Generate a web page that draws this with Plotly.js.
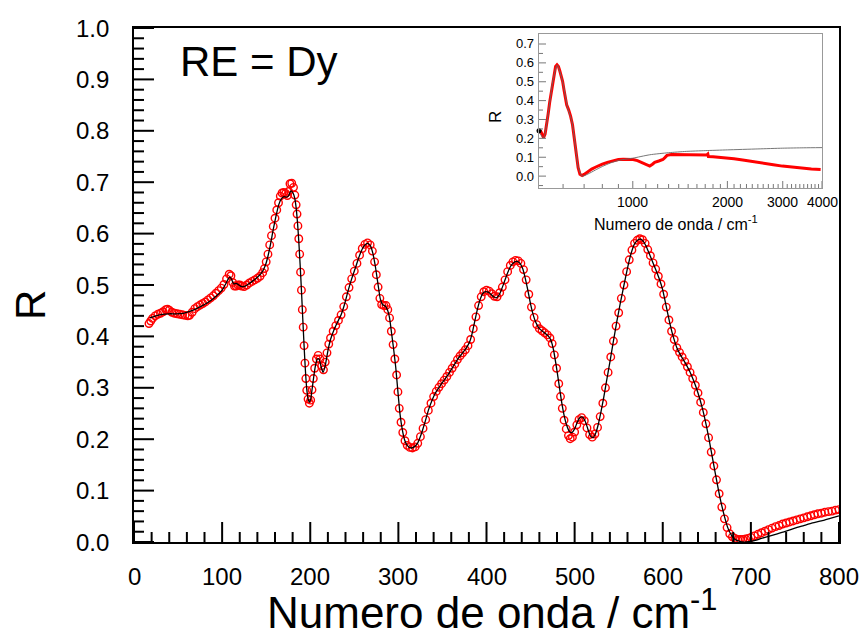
<!DOCTYPE html>
<html>
<head>
<meta charset="utf-8">
<script src="https://cdn.plot.ly/plotly-3.0.1.min.js"></script>
<style>html,body{margin:0;padding:0;background:#fff;}#chart{width:864px;height:641px;}</style>
</head>
<body>
<div id="chart"></div>
<script>
// ---- Main panel: experimental reflectance (red circles) ----
const expX = [17,19,21,24,27,30,33,36,38,40,43,46,49,52,55,58,61,63,66,69,72,75,78,81,84,87,90,93,96,99,102,105,108,110,112,114,116,118,120,122,125,128,131,134,137,140,143,146,148,150,152,154,156,158,160,162,164,166,168,170,172,174,175.5,177,179,181,182.5,184,185,186,187,188,189,190,191,192,193,194,195,196,197.5,199,200.5,202,203.5,205,207,209,211,213,215,217,219,221,223,226,229,232,235,238,241,244,247,250,253,256,259,262,265,268,270.5,273,275,277,279,281,283.5,286,288,290,292,294,296,298,299.5,301,303,305,307.5,310,313,316,319,322,325,328,331,334,337,340,343,346,349,352,355,358,361,364,367,370,373,376,379,382,385,388,391,394,397,400,403,406,409,412,415,418,421,424,427,430,433,436,439,442,445,448,451,454,457,460,463,466,469,472,474.5,477,479.5,482,484,486,488,490.5,493,495,497.5,500,502.5,505,508,511,514,517,520,523,526,529,532,535,538,541,544,547,550,553,556,559,562,565,568,571,574,577,580,583,586,589,592,595,598,601,604,607,610,613,616,619,622,625,628,631,634,637,640,643,646,649,652,655,658,661,664,667,670,673,676,679,682,685,688,691,694,697,700,704,708,712,716,720,724,728,732,736,740,744,748,752,756,760,764,768,772,776,780,784,788,792,796,800];
const expR = [0.425,0.430,0.435,0.440,0.443,0.445,0.448,0.452,0.453,0.451,0.447,0.445,0.444,0.443,0.442,0.441,0.440,0.441,0.447,0.454,0.458,0.461,0.464,0.467,0.471,0.475,0.479,0.484,0.489,0.494,0.501,0.512,0.521,0.518,0.505,0.498,0.498,0.500,0.500,0.498,0.497,0.500,0.504,0.507,0.510,0.513,0.517,0.524,0.532,0.545,0.560,0.578,0.596,0.614,0.630,0.646,0.660,0.673,0.679,0.680,0.678,0.674,0.682,0.697,0.698,0.690,0.675,0.656,0.638,0.615,0.590,0.560,0.525,0.490,0.452,0.418,0.382,0.348,0.318,0.295,0.278,0.270,0.276,0.296,0.318,0.338,0.356,0.363,0.356,0.343,0.335,0.350,0.368,0.385,0.397,0.410,0.421,0.431,0.442,0.458,0.477,0.495,0.512,0.527,0.542,0.558,0.571,0.579,0.582,0.578,0.566,0.545,0.520,0.496,0.474,0.462,0.460,0.460,0.452,0.436,0.410,0.384,0.356,0.325,0.292,0.260,0.233,0.213,0.197,0.188,0.184,0.183,0.185,0.192,0.205,0.221,0.238,0.256,0.270,0.283,0.293,0.301,0.308,0.315,0.322,0.330,0.338,0.346,0.355,0.362,0.368,0.374,0.382,0.394,0.415,0.438,0.460,0.477,0.487,0.490,0.488,0.483,0.478,0.477,0.485,0.496,0.510,0.526,0.538,0.545,0.548,0.547,0.542,0.530,0.510,0.482,0.457,0.437,0.423,0.415,0.411,0.407,0.403,0.397,0.386,0.364,0.338,0.308,0.283,0.260,0.237,0.220,0.207,0.201,0.204,0.214,0.228,0.238,0.242,0.236,0.222,0.209,0.204,0.210,0.223,0.244,0.270,0.300,0.330,0.360,0.391,0.420,0.446,0.474,0.500,0.526,0.549,0.568,0.581,0.587,0.590,0.588,0.581,0.569,0.557,0.543,0.531,0.517,0.502,0.482,0.457,0.432,0.410,0.394,0.378,0.369,0.360,0.351,0.341,0.330,0.318,0.305,0.290,0.272,0.252,0.230,0.203,0.175,0.148,0.121,0.094,0.068,0.045,0.028,0.016,0.010,0.007,0.005,0.005,0.005,0.006,0.007,0.009,0.012,0.015,0.018,0.021,0.024,0.027,0.030,0.032,0.035,0.037,0.039,0.041,0.043,0.045,0.047,0.049,0.051,0.053,0.055,0.056,0.058,0.059,0.060,0.062,0.063];

// ---- Main panel: fitted model (black line) ----
const fitX = [18,25,32,40,48,56,64,72,80,88,95,100,104,107,109,111,113,116,119,122,126,130,135,140,145,149,152,155,158,161,164,167,170,173,175.5,178,180.5,182.5,184,185.5,187,188.5,190,191.5,193,194.5,196,197.5,199,200.5,202,204,206,208,210,212,214.5,217,220,223,227,231,235,239,243,247,251,255,259,262,265,268,271,274,277,279.5,282,285,288,290,292,294.5,297,299.5,302,304.5,307,310,314,318,322,326,330,334,338,342,347,352,357,362,367,372,377,381,384,387,390,393,396,399,402,405,408,411,414,417,420,424,428,432,435,438,441,444,447,450,453,456,460,465,470,473,476,479,482,485,488,491,494,497,500,503,506,509,512,515,518,521,524,527,530,533,536,540,544,548,552,556,560,564,568,572,575,578,581,584,588,592,596,600,604,608,612,616,620,625,630,635,640,645,650,655,660,665,670,674,678,682,686,690,695,700,705,712,720,730,740,750,760,770,780,790,800];
const fitR = [0.436,0.440,0.443,0.444,0.444,0.445,0.449,0.455,0.462,0.471,0.481,0.490,0.502,0.512,0.516,0.510,0.502,0.503,0.500,0.497,0.498,0.502,0.508,0.515,0.524,0.538,0.556,0.580,0.608,0.633,0.655,0.667,0.672,0.671,0.674,0.683,0.679,0.668,0.650,0.622,0.585,0.540,0.490,0.435,0.382,0.334,0.298,0.279,0.272,0.278,0.296,0.322,0.344,0.356,0.356,0.343,0.330,0.343,0.372,0.394,0.413,0.428,0.442,0.463,0.489,0.512,0.532,0.553,0.570,0.578,0.581,0.577,0.562,0.535,0.500,0.473,0.462,0.459,0.450,0.436,0.410,0.377,0.340,0.292,0.247,0.218,0.199,0.188,0.183,0.185,0.193,0.210,0.232,0.256,0.275,0.290,0.303,0.315,0.327,0.341,0.355,0.366,0.377,0.390,0.408,0.432,0.455,0.473,0.484,0.487,0.486,0.482,0.477,0.475,0.480,0.491,0.505,0.524,0.538,0.545,0.546,0.542,0.532,0.513,0.489,0.463,0.442,0.427,0.415,0.408,0.401,0.393,0.374,0.344,0.310,0.275,0.247,0.227,0.215,0.213,0.220,0.233,0.242,0.243,0.235,0.220,0.206,0.203,0.212,0.230,0.254,0.281,0.311,0.350,0.391,0.430,0.466,0.500,0.533,0.561,0.580,0.588,0.589,0.585,0.576,0.564,0.547,0.530,0.512,0.490,0.458,0.426,0.399,0.378,0.364,0.350,0.334,0.314,0.290,0.260,0.222,0.177,0.130,0.086,0.050,0.027,0.013,0.005,0.002,0.000,0.000,0.001,0.003,0.007,0.011,0.016,0.021,0.027,0.032,0.037,0.041,0.046,0.051];

// ---- Inset: full range, log wavenumber ----
const insExpX = [503,508,514,520,526,532,538,544,550,556,562,568,574,580,586,592,598,604,610,616,625,634,643,652,661,670,679,690,700,720,740,760,780,800,830,866,900,932,970,1002,1035,1065,1100,1132,1155,1174,1210,1247,1265,1285,1326,1400,1480,1580,1671,1720,1733,1740,1800,1934,2100,2238,2400,2588,2800,2993,3200,3463,3700,3960];
const insExpR = [0.228,0.242,0.224,0.204,0.223,0.270,0.330,0.391,0.446,0.500,0.549,0.581,0.590,0.581,0.557,0.531,0.502,0.457,0.410,0.378,0.351,0.318,0.272,0.203,0.121,0.045,0.010,0.003,0.009,0.024,0.037,0.047,0.056,0.063,0.073,0.083,0.088,0.090,0.090,0.088,0.082,0.072,0.060,0.053,0.063,0.073,0.080,0.088,0.098,0.110,0.115,0.114,0.113,0.111,0.110,0.112,0.117,0.104,0.102,0.099,0.092,0.085,0.076,0.067,0.060,0.053,0.048,0.041,0.038,0.035];
const insFitX = [503,520,540,556,575,600,620,640,660,670,690,720,760,800,850,900,950,1000,1132,1300,1480,1700,2000,2500,3000,3500,4000];
const insFitR = [0.233,0.203,0.350,0.500,0.589,0.490,0.364,0.290,0.130,0.050,0.000,0.011,0.032,0.051,0.070,0.083,0.090,0.095,0.113,0.124,0.131,0.135,0.139,0.144,0.148,0.150,0.151];
const insDotX = [503];
const insDotR = [0.24];

// Tick labels / tick positions
const mainXTicks = [0,100,200,300,400,500,600,700,800];
const mainXMinor = [20,40,60,80,120,140,160,180,220,240,260,280,320,340,360,380,420,440,460,480,520,540,560,580,620,640,660,680,720,740,760,780];
const mainYTicks = [0.0,0.1,0.2,0.3,0.4,0.5,0.6,0.7,0.8,0.9,1.0];
const mainYMinor = [0.02,0.04,0.06,0.08,0.12,0.14,0.16,0.18,0.22,0.24,0.26,0.28,0.32,0.34,0.36,0.38,0.42,0.44,0.46,0.48,0.52,0.54,0.56,0.58,0.62,0.64,0.66,0.68,0.72,0.74,0.76,0.78,0.82,0.84,0.86,0.88,0.92,0.94,0.96,0.98];
const insXTicks = [1000,2000,3000,4000];
const insXMinor = [600,700,800,900,1100,1200,1300,1400,1500,1600,1700,1800,1900,2100,2200,2300,2400,2500,2600,2700,2800,2900,3100,3200,3300,3400,3500,3600,3700,3800,3900];
const insYTicks = [0.0,0.1,0.2,0.3,0.4,0.5,0.6,0.7];
const insYMinor = [-0.05,0.05,0.15,0.25,0.35,0.45,0.55,0.65];

const FONT = 'Arial, "Liberation Sans", sans-serif';

const traces = [
  {x: expX, y: expR, xaxis:'x', yaxis:'y', mode:'markers', type:'scatter',
   marker:{symbol:'circle-open', size:7.5, color:'#ff0000', line:{width:1.4, color:'#ff0000'}}},
  {x: fitX, y: fitR, xaxis:'x', yaxis:'y', mode:'lines', type:'scatter',
   line:{color:'#000000', width:1.3, shape:'spline', smoothing:0.5}},
  {x: insExpX, y: insExpR, xaxis:'x2', yaxis:'y2', mode:'lines', type:'scatter',
   line:{color:'#ff0000', width:3}},
  {x: insFitX, y: insFitR, xaxis:'x2', yaxis:'y2', mode:'lines', type:'scatter',
   line:{color:'#666666', width:0.9, shape:'spline', smoothing:0.6}},
  {x: insDotX, y: insDotR, xaxis:'x2', yaxis:'y2', mode:'markers', type:'scatter', cliponaxis:false,
   marker:{color:'#000000', size:5}}
];

const px2x = p => (p - 134) / 705;
const px2y = p => (542 - p) / 514;

// plot-area sizes in px (main 705x514, inset 283x154) used for tick lengths
const MAIN_W = 705, MAIN_H = 514, INS_W = 283, INS_H = 154;

// Tick marks as line shapes placed through the axes' scales
const shapes = [];
const xTick = (xa, ya, v, len, h, col, w) => shapes.push({type:'line', xref:xa, yref:ya + ' domain',
  x0:v, x1:v, y0:0, y1:len / h, line:{color:col, width:w}, layer:'above'});
const yTick = (xa, ya, v, len, wpx, col, w) => shapes.push({type:'line', xref:xa + ' domain', yref:ya,
  x0:0, x1:len / wpx, y0:v, y1:v, line:{color:col, width:w}, layer:'above'});
mainXTicks.forEach(v => xTick('x', 'y', v, 20, MAIN_H, '#000', 2));
mainXMinor.forEach(v => xTick('x', 'y', v, 10, MAIN_H, '#000', 2));
mainYTicks.forEach(v => yTick('x', 'y', v, 20, MAIN_W, '#000', 2));
mainYMinor.forEach(v => yTick('x', 'y', v, 10, MAIN_W, '#000', 2));
insXTicks.forEach(v => xTick('x2', 'y2', v, 7, INS_H, '#777', 1));
insXMinor.forEach(v => xTick('x2', 'y2', v, 4, INS_H, '#777', 1));
insYTicks.forEach(v => yTick('x2', 'y2', v, 7, INS_W, '#777', 1));
insYMinor.forEach(v => yTick('x2', 'y2', v, 4, INS_W, '#777', 1));

// Tick labels placed through the axes' own scales
const tickAnns = [];
mainXTicks.forEach(v => tickAnns.push({text:String(v), xref:'x', x:v, yref:'paper', y:px2y(576),
  xanchor:'center', yanchor:'middle', showarrow:false, font:{size:24, family:FONT, color:'#000'}}));
mainYTicks.forEach(v => tickAnns.push({text:v.toFixed(1), xref:'paper', x:px2x(111), yref:'y', y:v,
  xanchor:'right', yanchor:'middle', showarrow:false, font:{size:24, family:FONT, color:'#000'}}));
insXTicks.forEach(v => tickAnns.push({text:String(v), xref:'x2', x:Math.log10(v), yref:'paper', y:px2y(202),
  xanchor:'center', yanchor:'middle', showarrow:false, font:{size:14, family:FONT, color:'#000'}}));
insYTicks.forEach(v => tickAnns.push({text:v.toFixed(1), xref:'paper', x:px2x(536), yref:'y2', y:v,
  xanchor:'right', yanchor:'middle', showarrow:false, font:{size:13, family:FONT, color:'#000'}}));

const layout = {
  width: 864, height: 641,
  margin: {l:134, r:25, t:28, b:99, pad:0},
  paper_bgcolor:'#ffffff', plot_bgcolor:'#ffffff',
  showlegend:false,
  font:{family:FONT, color:'#000'},
  xaxis:{domain:[0,1], range:[0,800], showticklabels:false, ticks:'',
    showline:true, linecolor:'#000', linewidth:2, mirror:true, showgrid:false, zeroline:false},
  yaxis:{domain:[0,1], range:[0,1.0], showticklabels:false, ticks:'',
    showline:true, linecolor:'#000', linewidth:2, mirror:true, showgrid:false, zeroline:false},
  xaxis2:{domain:[px2x(539), px2x(822)], anchor:'y2', type:'log',
    range:[Math.log10(503), Math.log10(4000)], showticklabels:false, ticks:'',
    showline:true, linecolor:'#999', linewidth:1.2, mirror:true, showgrid:false, zeroline:false},
  yaxis2:{domain:[px2y(188), px2y(34)], anchor:'x2', range:[-0.063, 0.753], showticklabels:false, ticks:'',
    showline:true, linecolor:'#999', linewidth:1.2, mirror:true, showgrid:false, zeroline:false},
  shapes: shapes,
  annotations:[
    {text:'RE = Dy', xref:'paper', yref:'paper', x:px2x(178), y:px2y(61), xanchor:'left', yanchor:'middle',
     showarrow:false, font:{size:42, family:FONT, color:'#000'}},
    {text:'Numero de onda / cm<sup>-1</sup>', xref:'paper', yref:'paper', x:px2x(492), y:px2y(609),
     xanchor:'center', yanchor:'middle', showarrow:false, font:{size:44, family:FONT, color:'#000'}},
    {text:'R', xref:'paper', yref:'paper', x:px2x(30), y:px2y(305), xanchor:'center', yanchor:'middle',
     textangle:-90, showarrow:false, font:{size:42, family:FONT, color:'#000'}},
    {text:'Numero de onda / cm<sup>-1</sup>', xref:'paper', yref:'paper', x:px2x(676), y:px2y(223),
     xanchor:'center', yanchor:'middle', showarrow:false, font:{size:16, family:FONT, color:'#000'}},
    {text:'R', xref:'paper', yref:'paper', x:px2x(495), y:px2y(117), xanchor:'center', yanchor:'middle',
     textangle:-90, showarrow:false, font:{size:17, family:FONT, color:'#000'}}
  ].concat(tickAnns)
};

Plotly.newPlot('chart', traces, layout, {staticPlot:true, displayModeBar:false});
</script>
</body>
</html>
